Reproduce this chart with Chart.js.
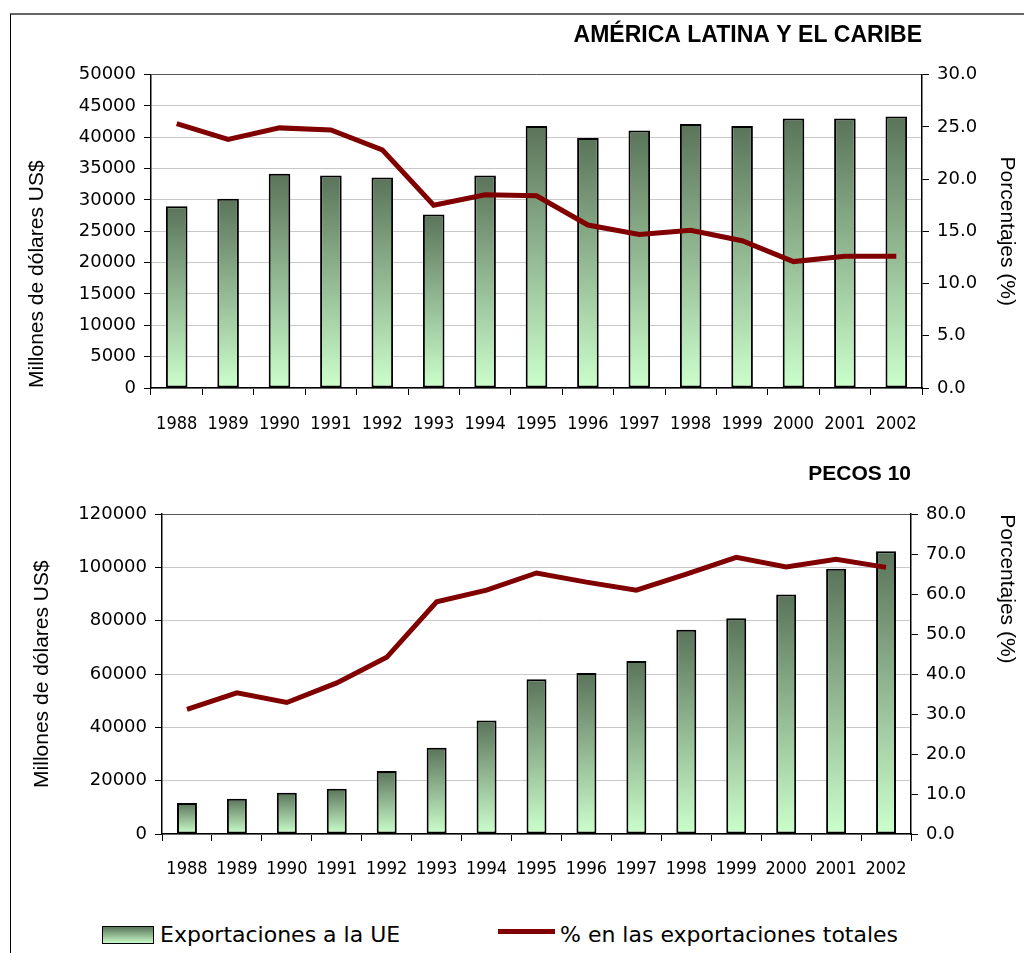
<!DOCTYPE html>
<html lang="es">
<head>
<meta charset="utf-8">
<title>Exportaciones a la UE</title>
<script src="https://cdn.jsdelivr.net/npm/chart.js@4.4.1/dist/chart.umd.min.js"></script>
<style>
    html, body { margin: 0; padding: 0; background: #fff; }
    body { position: relative; width: 1024px; height: 953px; overflow: hidden; }
    .frame { position: absolute; left: 10px; top: 13px; width: 1030px; height: 960px;
             border-top: 2px solid #666; border-left: 1px solid #000; }
    canvas { position: absolute; left: 0; }
    #chartTop { top: 0; }
    #chartBottom { top: 450px; }
    .legend-text { position: absolute; top: 924px; font: 22px 'DejaVu Sans', sans-serif;
                   line-height: 1; color: #000; white-space: nowrap; }
    .legend-bar { position: absolute; left: 102px; top: 926px; width: 50px; height: 16px;
                  border: 1px solid #000; background: linear-gradient(#5a745a, #c8fac8); }
    .legend-line { position: absolute; left: 498px; top: 929px; width: 57px; height: 5px; background: #800000; }
</style>
</head>
<body>
<div class="frame"></div>
<canvas id="chartTop" width="1024" height="450"></canvas>
<canvas id="chartBottom" width="1024" height="450"></canvas>

<div class="legend-bar"></div>
<div class="legend-text" style="left:160px">Exportaciones a la UE</div>
<div class="legend-line"></div>
<div class="legend-text" style="left:560px">% en las exportaciones totales</div>

<script>
// --- data ---
const years = ['1988', '1989', '1990', '1991', '1992', '1993', '1994', '1995',
               '1996', '1997', '1998', '1999', '2000', '2001', '2002'];

// América Latina y el Caribe
const alcExports = [29000, 30200, 34200, 33900, 33600, 27700, 33900, 41800,
                    39900, 41100, 42100, 41800, 43000, 43000, 43300];
const alcShare = [25.3, 23.8, 24.9, 24.7, 22.8, 17.5, 18.5, 18.4,
                  15.6, 14.7, 15.1, 14.1, 12.1, 12.6, 12.6];

// PECOS 10
const pecosExports = [11600, 13200, 15500, 17000, 23600, 32400, 42600, 58100,
                      60400, 64900, 76600, 81000, 89900, 99500, 106100];
const pecosShare = [31.2, 35.3, 32.9, 37.8, 44.2, 58.1, 61.0, 65.3,
                    63.0, 61.0, 65.0, 69.2, 66.8, 68.7, 66.7];

const barLabel = 'Exportaciones a la UE';
const lineLabel = '% en las exportaciones totales';
const leftTitle = 'Millones de dólares US$';
const rightTitle = 'Porcentajes (%)';

Chart.defaults.font.family = "'Liberation Sans', Arial, sans-serif";
Chart.defaults.color = '#000';

const tickFont = { family: "'DejaVu Sans', sans-serif", size: 18 };
const yearFont = { family: "'DejaVu Sans Condensed', 'Liberation Sans Narrow', 'DejaVu Sans', sans-serif", size: 18 };
const axisTitleFont = { size: 21 };

// each bar gets its own dark-to-light gradient, like the original
function barGradient(context) {
    const chart = context.chart;
    if (context.type !== 'data' || !chart.chartArea) return '#90b690';
    const scale = chart.scales.y;
    const top = scale.getPixelForValue(context.raw);
    const bottom = scale.getPixelForValue(0);
    if (!isFinite(top) || !isFinite(bottom) || top === bottom) return '#90b690';
    const g = chart.ctx.createLinearGradient(0, top, 0, bottom);
    g.addColorStop(0, '#5a745a');
    g.addColorStop(1, '#ccffcc');
    return g;
}

function buildChart(canvasId, cfg) {
    const ctx = document.getElementById(canvasId);
    return new Chart(ctx, {
        type: 'bar',
        data: {
            labels: years,
            datasets: [{
                type: 'line',
                label: lineLabel,
                data: cfg.share,
                yAxisID: 'y1',
                borderColor: '#800000',
                backgroundColor: '#800000',
                borderWidth: 5,
                pointRadius: 0,
                tension: 0,
                order: 0
            }, {
                type: 'bar',
                label: barLabel,
                data: cfg.exports,
                yAxisID: 'y',
                backgroundColor: barGradient,
                borderColor: '#000',
                borderWidth: 2,
                borderSkipped: false,
                barPercentage: cfg.barPct,
                categoryPercentage: 1,
                order: 1
            }]
        },
        options: {
            responsive: false,
            animation: false,
            layout: { padding: 0 },
            plugins: {
                legend: { display: false },
                tooltip: { enabled: false },
                title: {
                    display: true,
                    text: cfg.title,
                    align: 'end',
                    fullSize: false,
                    color: '#000',
                    font: { size: cfg.titleSize, weight: 'bold' },
                    padding: cfg.titlePad
                }
            },
            scales: {
                x: {
                    grid: { offset: true, drawOnChartArea: false, tickLength: 7, color: '#000' },
                    border: { color: '#000', width: 1.5 },
                    ticks: { color: '#000', font: yearFont, padding: cfg.xPad, maxRotation: 0, autoSkip: false },
                    afterFit: s => { s.height = cfg.xHeight; }
                },
                y: {
                    position: 'left',
                    min: 0,
                    max: cfg.leftMax,
                    ticks: {
                        stepSize: cfg.leftStep,
                        color: '#000',
                        font: tickFont,
                        padding: 8,
                        callback: v => String(v)
                    },
                    grid: {
                        color: c => (c.tick && c.tick.value === cfg.leftMax) ? '#555' : '#c8c8c8',
                        tickColor: '#000',
                        tickLength: 7
                    },
                    border: { color: '#000', width: 1.5 },
                    title: {
                        display: true,
                        text: leftTitle,
                        font: axisTitleFont,
                        color: '#000',
                        align: cfg.leftAlign,
                        padding: { top: cfg.leftTitlePad, bottom: 0 }
                    },
                    afterFit: s => { s.width = cfg.leftWidth; }
                },
                y1: {
                    position: 'right',
                    min: 0,
                    max: cfg.rightMax,
                    ticks: {
                        stepSize: cfg.rightStep,
                        color: '#000',
                        font: tickFont,
                        padding: 8,
                        callback: v => Number(v).toFixed(1)
                    },
                    grid: { drawOnChartArea: false, tickColor: '#000', tickLength: 7 },
                    border: { color: '#000', width: 1.5 },
                    title: {
                        display: true,
                        text: rightTitle,
                        font: axisTitleFont,
                        color: '#000',
                        align: cfg.rightAlign,
                        padding: { top: 5, bottom: 0 }
                    },
                    afterFit: s => { s.width = cfg.rightWidth; }
                }
            }
        }
    });
}

buildChart('chartTop', {
    title: 'AMÉRICA LATINA Y EL CARIBE',
    titleSize: 23,
    titlePad: { top: 22, bottom: 25 },
    exports: alcExports,
    share: alcShare,
    barPct: 0.42,
    leftMax: 50000,
    leftStep: 5000,
    rightMax: 30,
    rightStep: 5,
    leftWidth: 151,
    rightWidth: 102,
    leftAlign: 'start',
    rightAlign: 'center',
    leftTitlePad: 25,
    xHeight: 62,
    xPad: 19
});

buildChart('chartBottom', {
    title: 'PECOS 10',
    titleSize: 21,
    titlePad: { top: 12, bottom: 27 },
    exports: pecosExports,
    share: pecosShare,
    barPct: 0.40,
    leftMax: 120000,
    leftStep: 20000,
    rightMax: 80,
    rightStep: 10,
    leftWidth: 162,
    rightWidth: 113,
    leftAlign: 'center',
    rightAlign: 'end',
    leftTitlePad: 30,
    xHeight: 66,
    xPad: 18
});
</script>
</body>
</html>
